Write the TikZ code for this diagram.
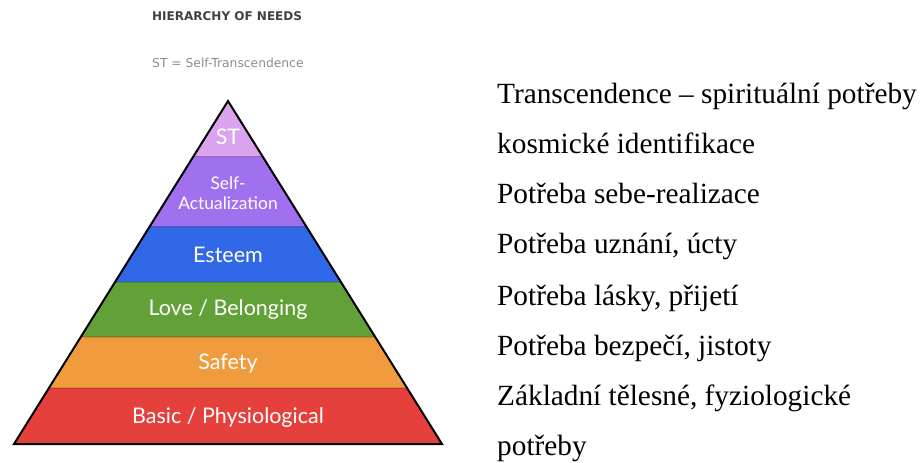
\documentclass[tikz,border=0pt]{standalone}
\usepackage{fontspec}
\setmainfont{Liberation Serif}
\newfontfamily\headfont{DejaVu Sans}
\newfontfamily\bandfont{Lato}
\usepackage{tikz}
\usetikzlibrary{calc}

\definecolor{stcol}{HTML}{D9A3EE}
\definecolor{selfcol}{HTML}{A070EE}
\definecolor{esteemcol}{HTML}{3168E8}
\definecolor{lovecol}{HTML}{62A138}
\definecolor{safetycol}{HTML}{F09C3E}
\definecolor{basiccol}{HTML}{E5403B}

\begin{document}
\begin{tikzpicture}[x=1pt,y=-1pt,
    bandlabel/.style={text=white, font=\bandfont\fontsize{21.5}{23}\selectfont, align=center, inner sep=0pt},
    needtext/.style={anchor=base west, inner sep=0pt, font=\fontsize{29.3}{29}\selectfont}]
    \useasboundingbox (0,0) rectangle (921,463);
    % pyramid corners
    \coordinate (apex) at (228,101);
    \coordinate (bl) at (14,444);
    \coordinate (br) at (442,444);
    % bands, from top to bottom
    \foreach \ta/\tb/\col in {0/0.163/stcol, 0.163/0.367/selfcol, 0.367/0.528/esteemcol,
        0.528/0.688/lovecol, 0.688/0.837/safetycol, 0.837/1/basiccol}
        \filldraw[fill=\col, draw=\col!60!black, line width=0.6pt]
            ($(apex)!\ta!(bl)$) -- ($(apex)!\tb!(bl)$) -- ($(apex)!\tb!(br)$) -- ($(apex)!\ta!(br)$) -- cycle;
    \draw[line width=2pt, line join=miter] (apex) -- (bl) -- (br) -- cycle;
    % band labels
    \node[bandlabel] (st) at (228,137) {ST};
    \node[bandlabel, font=\bandfont\fontsize{17.4}{20}\selectfont] (self) at (228,193) {Self-\\Actualization};
    \node[bandlabel] (esteem) at (228,255) {Esteem};
    \node[bandlabel] (love) at (228,310) {Love / Belonging};
    \node[bandlabel] (safety) at (228,364) {Safety};
    \node[bandlabel] (basic) at (228,418) {Basic / Physiological};
    % heading
    \node[anchor=west, inner sep=0pt, text=black!75, font=\headfont\bfseries\fontsize{12}{12}\selectfont] (title) at (152,16) {HIERARCHY OF NEEDS};
    \node[anchor=west, inner sep=0pt, text=black!45, font=\headfont\fontsize{12.3}{12}\selectfont] (key) at (152,63) {ST = Self-Transcendence};
    % needs, in Czech
    \node[needtext] (n1) at (497,103) {Transcendence – spirituální potřeby};
    \node[needtext] (n2) at (497,153) {kosmické identifikace};
    \node[needtext] (n3) at (497,203) {Potřeba sebe-realizace};
    \node[needtext] (n4) at (497,253) {Potřeba uznání, úcty};
    \node[needtext] (n5) at (497,305) {Potřeba lásky, přijetí};
    \node[needtext] (n6) at (497,355) {Potřeba bezpečí, jistoty};
    \node[needtext] (n7) at (497,405) {Základní tělesné, fyziologické};
    \node[needtext] (n8) at (497,455) {potřeby};
\end{tikzpicture}
\end{document}
